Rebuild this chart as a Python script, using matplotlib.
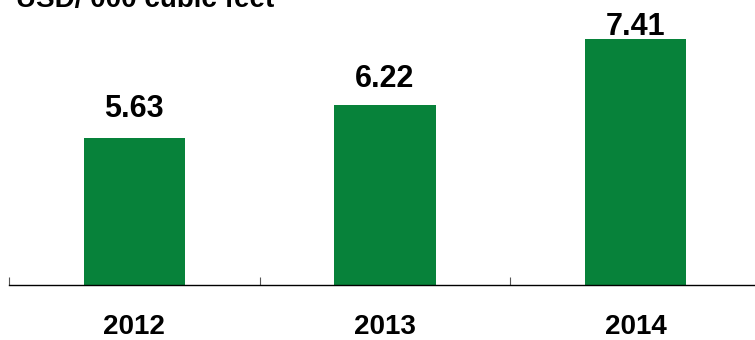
import matplotlib
matplotlib.use("Agg")
from matplotlib import pyplot as plt

# Gas price per year
years = ["2012", "2013", "2014"]
prices = [5.63, 6.22, 7.41]

plt.rcParams["font.family"] = ["Liberation Sans", "DejaVu Sans"]

W, H = 755, 340
fig = plt.figure(figsize=(W / 100, H / 100), dpi=100)

# axes box in pixels: x from 9 to 761, y from top edge down to 285
ax = fig.add_axes([9 / W, 1 - 285 / H, 752 / W, 285 / H])

x = range(len(years))
ax.bar(x, prices, width=0.403, color="#07823A", zorder=2)

ax.set_xlim(-0.5, len(years) - 0.5)
ax.set_ylim(3, 3 + 285 / 55.8)

# value labels above bars (last one pulled down to stay on the page)
label_gap = [21, 18, 4]
for i, v in enumerate(prices):
    ax.annotate("%.2f" % v, (i, v), xytext=(0, label_gap[i] * 0.72),
                textcoords="offset points", ha="center", va="baseline",
                fontsize=22, fontweight="bold", annotation_clip=False)

for s in ["top", "right", "left"]:
    ax.spines[s].set_visible(False)
ax.spines["bottom"].set_linewidth(1.0)
ax.set_yticks([])

ax.set_xticks(list(x))
ax.set_xticklabels(years, fontsize=20, fontweight="bold")
ax.tick_params(axis="x", which="major", length=0, pad=21)
ax.set_xticks([-0.5, 0.5, 1.5, 2.5], minor=True)
ax.tick_params(axis="x", which="minor", direction="in", length=6, width=0.8, color="#555555")

fig.text(16 / W, 1 - 7 / H, "USD/ 000 cubic feet", fontsize=20, fontweight="bold",
         ha="left", va="baseline")

fig.savefig("out.png", dpi=100)
